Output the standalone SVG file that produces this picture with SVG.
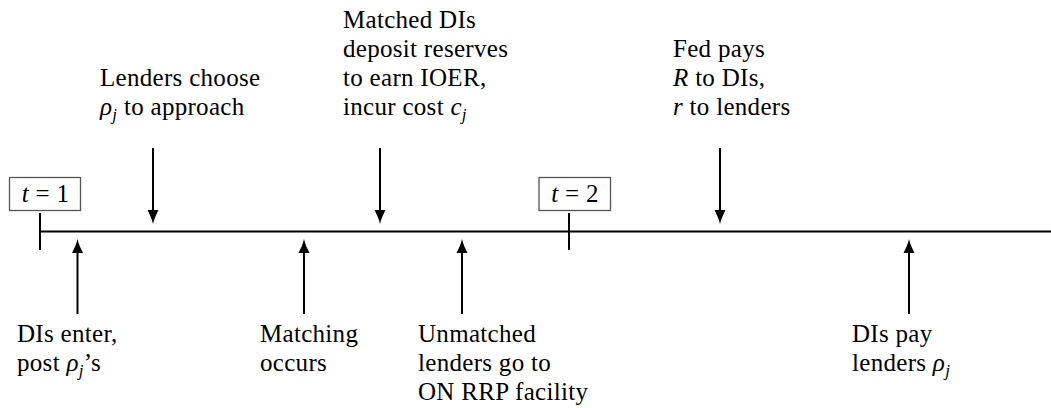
<svg xmlns="http://www.w3.org/2000/svg" width="1051" height="408" viewBox="0 0 1051 408">
<style>
  text { font-family: "Liberation Serif", "Times New Roman", serif; font-size: 25px; letter-spacing: 0.3px; fill: #000; }
  .m { font-style: italic; }
  .sub { font-style: italic; font-size: 17px; }
  .axis { stroke: #000; stroke-width: 2; fill: none; }
  .arrow { stroke: #000; stroke-width: 2; fill: none; marker-end: url(#head); }
  .box { fill: #fff; stroke: #555; stroke-width: 1.3; }
</style>
<defs>
  <marker id="head" markerUnits="userSpaceOnUse" viewBox="0 -6 15 12" markerWidth="15" markerHeight="12" refX="6" refY="0" orient="auto">
    <path d="M0,-5.5 C4,-3.5 9,-1 14,0 C9,1 4,3.5 0,5.5 Z" fill="#000"/>
  </marker>
</defs>

<g id="connectors">
  <line class="axis" x1="40" y1="231.5" x2="1051" y2="231.5"/>
  <line class="axis" x1="40" y1="213" x2="40" y2="250"/>
  <line class="axis" x1="569" y1="213" x2="569" y2="250"/>
  <line class="arrow" x1="153" y1="148" x2="153" y2="216"/>
  <line class="arrow" x1="380" y1="148" x2="380" y2="216"/>
  <line class="arrow" x1="720" y1="148" x2="720" y2="216"/>
  <line class="arrow" x1="77.5" y1="314" x2="77.5" y2="247"/>
  <line class="arrow" x1="304" y1="314" x2="304" y2="247"/>
  <line class="arrow" x1="462" y1="314" x2="462" y2="247"/>
  <line class="arrow" x1="909" y1="314" x2="909" y2="247"/>
</g>

<g id="t1">
  <rect class="box" x="9.5" y="177.5" width="71" height="33"/>
  <text x="45.5" y="202" text-anchor="middle"><tspan class="m">t</tspan> = 1</text>
</g>
<g id="t2">
  <rect class="box" x="539" y="177.5" width="71.5" height="33"/>
  <text x="575" y="202" text-anchor="middle"><tspan class="m">t</tspan> = 2</text>
</g>

<g id="lenders-choose">
  <text x="100" y="86">Lenders choose</text>
  <text x="100" y="115"><tspan class="m">ρ</tspan><tspan class="sub" dy="5">j</tspan><tspan dy="-5"> to approach</tspan></text>
</g>

<g id="matched-dis">
  <text x="343" y="28">Matched DIs</text>
  <text x="343" y="57">deposit reserves</text>
  <text x="343" y="86">to earn IOER,</text>
  <text x="343" y="115">incur cost <tspan class="m">c</tspan><tspan class="sub" dy="5">j</tspan></text>
</g>

<g id="fed-pays">
  <text x="673" y="57">Fed pays</text>
  <text x="673" y="86"><tspan class="m">R</tspan> to DIs,</text>
  <text x="673" y="115"><tspan class="m">r</tspan> to lenders</text>
</g>

<g id="dis-enter">
  <text x="17" y="342">DIs enter,</text>
  <text x="17" y="371">post <tspan class="m">ρ</tspan><tspan class="sub" dy="5">j</tspan><tspan dy="-5">’s</tspan></text>
</g>

<g id="matching">
  <text x="260" y="342">Matching</text>
  <text x="260" y="371">occurs</text>
</g>

<g id="unmatched">
  <text x="418" y="342">Unmatched</text>
  <text x="418" y="371">lenders go to</text>
  <text x="418" y="400">ON RRP facility</text>
</g>

<g id="dis-pay">
  <text x="852" y="342">DIs pay</text>
  <text x="852" y="371">lenders <tspan class="m">ρ</tspan><tspan class="sub" dy="5">j</tspan></text>
</g>
</svg>
